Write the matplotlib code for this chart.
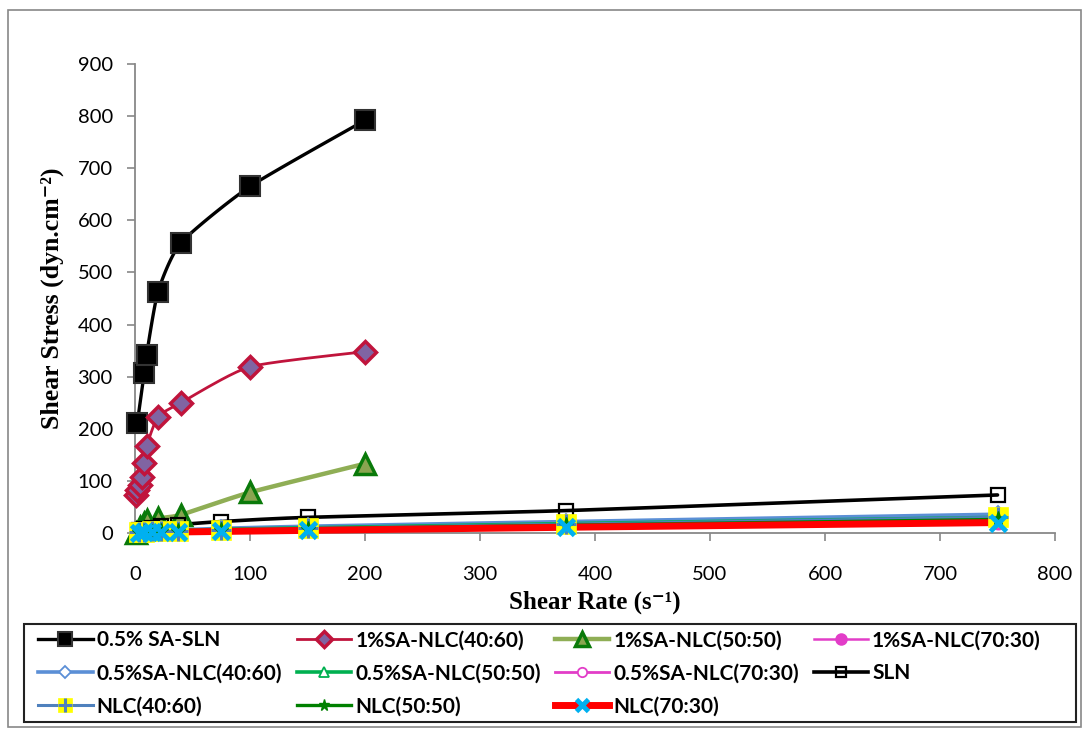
import numpy as np
import matplotlib
matplotlib.use("Agg")
import matplotlib.pyplot as plt
from matplotlib.patches import Rectangle
from matplotlib.lines import Line2D
from matplotlib.legend_handler import HandlerTuple

# ---------------- data ----------------
x_sa_sln = [2, 8, 10, 20, 40, 100, 200]
y_sa_sln = [211, 307, 341, 463, 557, 665, 792]

x_sa1 = [1, 2, 4, 6, 8, 10, 20, 40, 100, 200]
y_sa1_4060 = [73, 83, 92, 107, 134, 166, 223, 250, 319, 348]

x_sa1b = [1, 4, 8, 10, 20, 40, 100, 200]
y_sa1_5050 = [0, 12, 20, 24, 28, 35, 78, 133]

x_nlc = [3.75, 7.5, 15, 22.5, 37.5, 75, 150, 375, 750]
y_sa1_7030 = [1, 2, 2, 3, 4, 5, 7, 13, 22]
y_sa05_4060 = [2, 3, 4, 5, 6, 9, 13, 22, 36]
y_sa05_5050 = [1, 2, 3, 4, 5, 7, 10, 18, 30]
y_sa05_7030 = [1, 1, 2, 3, 4, 5, 8, 14, 24]
y_sln = [5, 7, 10, 13, 16, 22, 30, 43, 73]
y_nlc_4060 = [1, 2, 3, 3, 4, 6, 9, 17, 30]
y_nlc_5050 = [1, 1, 2, 3, 3, 5, 8, 15, 26]
y_nlc_7030 = [0, 1, 1, 2, 2, 3, 5, 11, 20]

labels = ["0.5% SA-SLN", "1%SA-NLC(40:60)", "1%SA-NLC(50:50)", "1%SA-NLC(70:30)",
          "0.5%SA-NLC(40:60)", "0.5%SA-NLC(50:50)", "0.5%SA-NLC(70:30)", "SLN",
          "NLC(40:60)", "NLC(50:50)", "NLC(70:30)"]

x_ticks = [0, 100, 200, 300, 400, 500, 600, 700, 800]
y_ticks = [0, 100, 200, 300, 400, 500, 600, 700, 800, 900]

# ---------------- figure ----------------
W, H = 1084, 729
fig = plt.figure(figsize=(W / 100, H / 100), dpi=100)
fig.patches.append(Rectangle((8 / W, 1 - 727 / H), (1081 - 8) / W, (727 - 10) / H,
                             transform=fig.transFigure, fill=False,
                             edgecolor="#888888", lw=1.2))
ax = fig.add_axes([135 / W, 1 - 533 / H, (1055 - 135) / W, (533 - 64) / H])
ax.set_xlim(0, 800)
ax.set_ylim(0, 900)

sx = (1055 - 135) / 800.0
sy = (533 - 64) / 900.0


def smooth(x, y, n=20):
    # Catmull-Rom style rendering of the polyline in pixel space (visual only)
    px = np.asarray(x, float) * sx
    py = np.asarray(y, float) * sy
    if len(px) < 3:
        return np.asarray(x, float), np.asarray(y, float)
    P = np.column_stack([px, py])
    P = np.vstack([P[0], P, P[-1]])
    out = []
    for i in range(1, len(P) - 2):
        p0, p1, p2, p3 = P[i - 1], P[i], P[i + 1], P[i + 2]
        t = np.linspace(0, 1, n, endpoint=False)[:, None]
        m1 = (p2 - p0) / 2 * 0.6
        m2 = (p3 - p1) / 2 * 0.6
        h00 = 2 * t**3 - 3 * t**2 + 1
        h10 = t**3 - 2 * t**2 + t
        h01 = -2 * t**3 + 3 * t**2
        h11 = t**3 - t**2
        out.append(h00 * p1 + h10 * m1 + h01 * p2 + h11 * m2)
    out.append(P[-2][None, :])
    out = np.vstack(out)
    return out[:, 0] / sx, out[:, 1] / sy


handles = []


def series(x, y, color, lw, marker, ms, mfc, mec, mew=1.5, extra=None):
    xs, ys = smooth(x, y)
    ax.plot(xs, ys, color=color, lw=lw, clip_on=False, zorder=3, solid_capstyle="round")
    ax.plot(x, y, ls="none", marker=marker, ms=ms, mfc=mfc, mec=mec, mew=mew,
            clip_on=False, zorder=4)
    h = Line2D([], [], color=color, lw=lw, marker=marker, ms=ms * 0.75, mfc=mfc,
               mec=mec, mew=mew)
    if extra is not None:
        ax.plot(x, y, ls="none", marker=extra[0], ms=extra[1], mec=extra[2],
                mew=extra[3], clip_on=False, zorder=4)
        h2 = Line2D([], [], ls="none", marker=extra[0], ms=extra[1] * 0.75,
                    mec=extra[2], mew=extra[3])
        h = (h, h2)
    handles.append(h)


series(x_sa_sln, y_sa_sln, "black", 2.4, "s", 14, "black", "#333333", 1.5)
series(x_sa1, y_sa1_4060, "#C0143C", 2.0, "D", 11, "#8064A2", "#C0143C", 2.5)
series(x_sa1b, y_sa1_5050, "#8FAE55", 3.2, "^", 14, "#8AA550", "#0A7A0A", 2.5)
series(x_nlc, y_sa1_7030, "#E23DC8", 1.8, "o", 10, "#E23DC8", "#E23DC8", 1.5)
series(x_nlc, y_sa05_4060, "#5B8FD6", 2.6, "D", 8, "white", "#5B8FD6", 1.3)
series(x_nlc, y_sa05_5050, "#00B050", 2.6, "^", 9, "white", "#00B050", 1.3)
series(x_nlc, y_sa05_7030, "#E23DC8", 2.0, "o", 9, "white", "#E23DC8", 1.3)
series(x_nlc, y_sln, "black", 2.6, "s", 10, "none", "black", 1.6)
series(x_nlc, y_nlc_4060, "#4F81BD", 2.2, "s", 14, "#FFFF00", "#FFFF00", 0.5,
       extra=("+", 14, "#4F81BD", 2.2))
series(x_nlc, y_nlc_5050, "#008000", 2.4, "*", 11, "#008000", "#008000", 1.0)
series(x_nlc, y_nlc_7030, "#FF0000", 5.0, "x", 12, "#00B0F0", "#00B0F0", 3.5)

# ---------------- axes styling ----------------
for s in ["top", "right"]:
    ax.spines[s].set_visible(False)
for s in ["left", "bottom"]:
    ax.spines[s].set_color("#888888")
    ax.spines[s].set_linewidth(1.3)
ax.set_xticks(x_ticks)
ax.set_yticks(y_ticks)
ax.tick_params(direction="out", length=6, width=1.2, color="#888888",
               labelsize=14.5)
ax.tick_params(axis="y", pad=10)
ax.tick_params(axis="x", pad=18)
for lab in ax.get_xticklabels() + ax.get_yticklabels():
    lab.set_fontfamily("Lato")

serif = ["Liberation Serif", "DejaVu Serif"]
ax.set_xlabel("Shear Rate (s\u207b\u00b9)", fontfamily=serif,
              fontweight="bold", fontsize=18, labelpad=5)
ax.set_ylabel("Shear Stress (dyn.cm\u207b\u00b2)", fontfamily=serif,
              fontweight="bold", fontsize=18.5, labelpad=10)

# ---------------- legend ----------------
fig.patches.append(Rectangle((24 / W, 1 - 722 / H), (1076 - 24) / W, (722 - 624) / H,
                             transform=fig.transFigure, fill=False,
                             edgecolor="#222222", lw=1.5))
order = [0, 4, 8, 1, 5, 9, 2, 6, 10, 3, 7]
leg = fig.legend([handles[i] for i in order], [labels[i] for i in order],
                 ncol=4, loc="upper left",
                 bbox_to_anchor=(30 / W, 1 - 622 / H),
                 frameon=False,
                 prop={"family": "Lato", "weight": "bold", "size": 15},
                 handlelength=2.6, handletextpad=0.2, borderaxespad=0,
                 labelspacing=0.62, borderpad=0.4, columnspacing=0.7,
                 handler_map={tuple: HandlerTuple(ndivide=1, pad=0)})

fig.savefig("out.png", dpi=100)
